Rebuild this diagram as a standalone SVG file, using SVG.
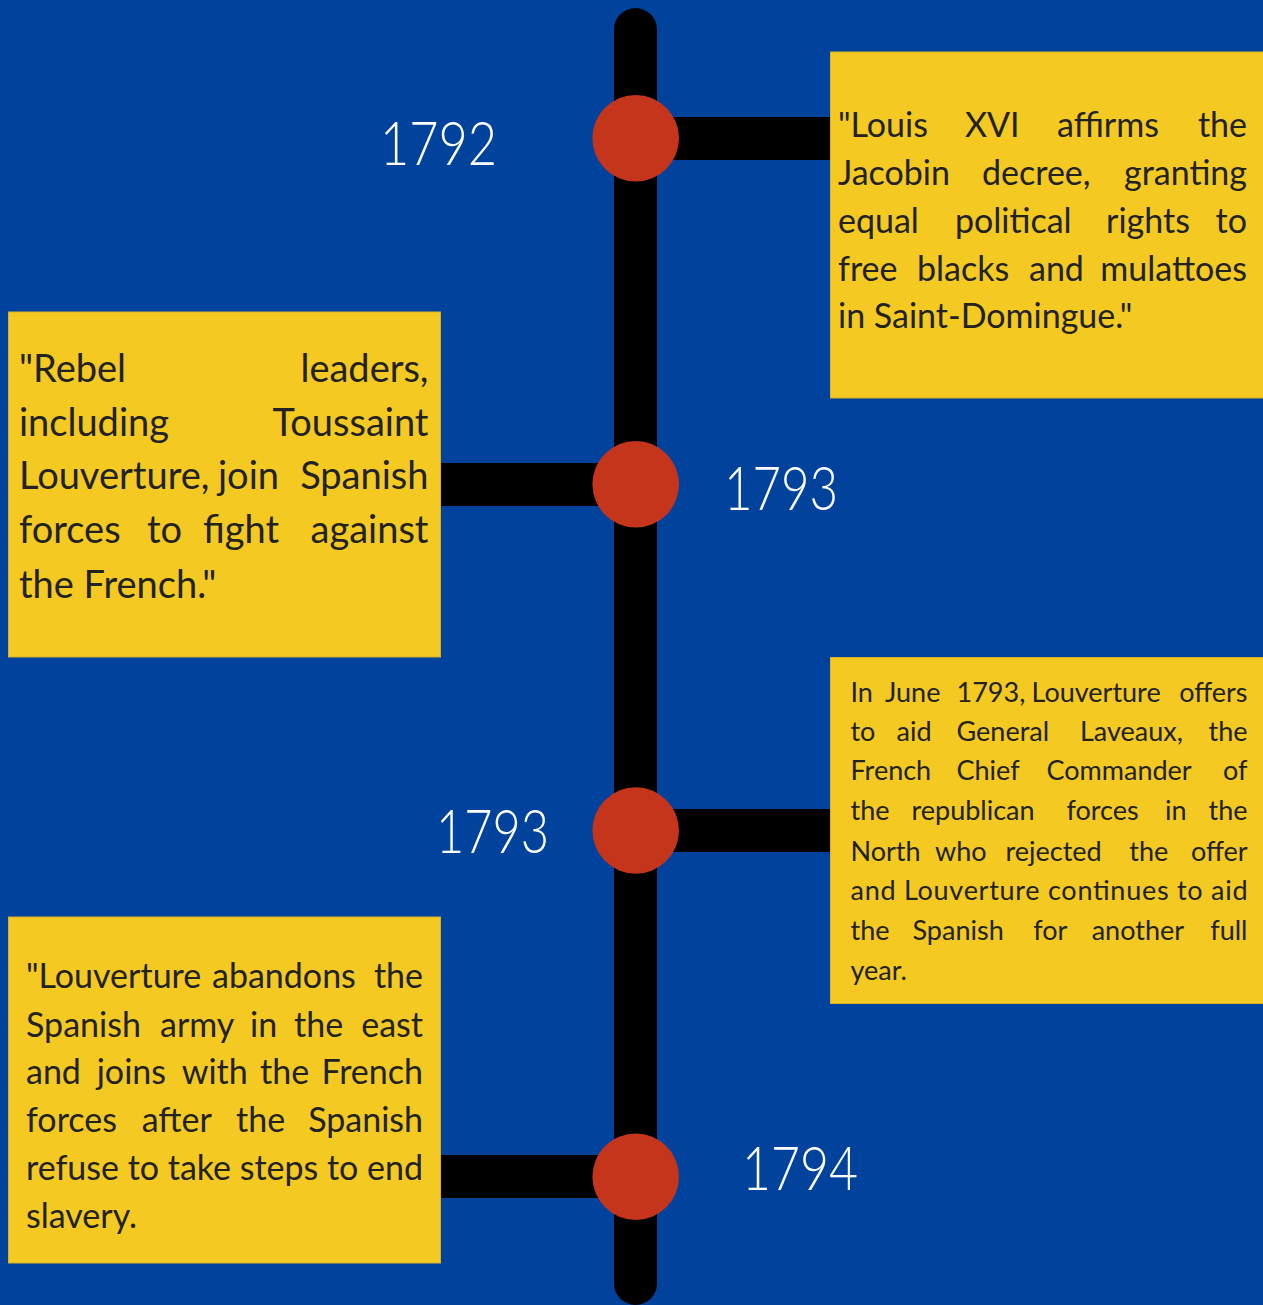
<svg xmlns="http://www.w3.org/2000/svg" width="1263" height="1305" viewBox="0 0 1263 1305">
<style>
.bg{fill:#01439c}
.spine{fill:#000}
.conn{fill:#000}
.dot{fill:#c4351b}
.box{fill:#f3c922;stroke:#d8b327;stroke-width:1}
.year{font-family:Lato,"Liberation Sans",sans-serif;font-weight:300;fill:#fff;font-size:62px}
.t{font-family:Lato,"Liberation Sans",sans-serif;fill:#222}
.a{font-size:34px}
.b{font-size:38px}
.c{font-size:27px}
.e{text-anchor:end}
</style>
<rect class="bg" x="0" y="0" width="1263" height="1305"/>
<g id="spine"><rect class="spine" x="614" y="8" width="43" height="1297" rx="21.5"/></g>
<g id="connectors">
<rect class="conn" x="636" y="117" width="195" height="43"/>
<rect class="conn" x="440" y="463" width="196" height="43"/>
<rect class="conn" x="636" y="809" width="195" height="43"/>
<rect class="conn" x="440" y="1155" width="196" height="43"/>
</g>
<g id="event-1792">
<circle class="dot" cx="635.7" cy="138.3" r="43.3"/>
<text class="year" x="380" y="165" textLength="117" lengthAdjust="spacingAndGlyphs">1792</text>
<rect class="box" x="830.5" y="52" width="434" height="346"/>
<g class="t a">
<text x="838" y="136.7">"Louis</text><text x="965" y="136.7">XVI</text><text x="1057" y="136.7">affirms</text><text class="e" x="1247" y="136.7">the</text>
<text x="838" y="185">Jacobin</text><text x="982" y="185">decree,</text><text class="e" x="1247" y="185">granting</text>
<text x="838" y="232.7">equal</text><text x="955" y="232.7">political</text><text x="1106" y="232.7">rights</text><text class="e" x="1247" y="232.7">to</text>
<text x="838" y="280.7">free</text><text x="917" y="280.7">blacks</text><text x="1029" y="280.7">and</text><text class="e" x="1247" y="280.7">mulattoes</text>
<text x="838" y="328.3">in Saint-Domingue."</text>
</g>
</g>
<g id="event-1793a">
<circle class="dot" cx="635.7" cy="484.3" r="43.3"/>
<text class="year" x="724" y="510" textLength="114" lengthAdjust="spacingAndGlyphs">1793</text>
<rect class="box" x="8.5" y="312" width="432" height="345"/>
<g class="t b">
<text x="19" y="381.7">"Rebel</text><text class="e" x="428.5" y="381.7">leaders,</text>
<text x="19" y="436">including</text><text class="e" x="428.5" y="436">Toussaint</text>
<text x="19" y="489.3">Louverture,</text><text x="218" y="489.3">join</text><text class="e" x="428.5" y="489.3">Spanish</text>
<text x="19" y="543.3">forces</text><text x="147" y="543.3">to</text><text x="203" y="543.3">fight</text><text class="e" x="428.5" y="543.3">against</text>
<text x="19" y="597.7">the French."</text>
</g>
</g>
<g id="event-1793b">
<circle class="dot" cx="635.7" cy="830.5" r="43.3"/>
<text class="year" x="436" y="853" textLength="113" lengthAdjust="spacingAndGlyphs">1793</text>
<rect class="box" x="830.5" y="657.5" width="434" height="346"/>
<g class="t c">
<text x="850.5" y="701.7">In</text><text x="885" y="701.7">June</text><text x="956.5" y="701.7">1793,</text><text x="1031.5" y="701.7">Louverture</text><text class="e" x="1247.5" y="701.7">offers</text>
<text x="850.5" y="740.7">to</text><text x="896.5" y="740.7">aid</text><text x="956.5" y="740.7">General</text><text x="1080" y="740.7">Laveaux,</text><text class="e" x="1247.5" y="740.7">the</text>
<text x="850.5" y="780">French</text><text x="956.5" y="780">Chief</text><text x="1046.5" y="780">Commander</text><text class="e" x="1247.5" y="780">of</text>
<text x="850.5" y="820">the</text><text x="911.5" y="820">republican</text><text x="1066.5" y="820">forces</text><text x="1165" y="820">in</text><text class="e" x="1247.5" y="820">the</text>
<text x="850.5" y="860.7">North</text><text x="935" y="860.7">who</text><text x="1005.5" y="860.7">rejected</text><text x="1129.3" y="860.7">the</text><text class="e" x="1247.5" y="860.7">offer</text>
<text x="850.5" y="900" textLength="397" lengthAdjust="spacing">and Louverture continues to aid</text>
<text x="850.5" y="940">the</text><text x="912.5" y="940">Spanish</text><text x="1033.3" y="940">for</text><text x="1091.7" y="940">another</text><text class="e" x="1247.5" y="940">full</text>
<text x="850.5" y="980">year.</text>
</g>
</g>
<g id="event-1794">
<circle class="dot" cx="635.7" cy="1176.7" r="43.3"/>
<text class="year" x="742" y="1190" textLength="116" lengthAdjust="spacingAndGlyphs">1794</text>
<rect class="box" x="8.5" y="917" width="432" height="346"/>
<g class="t a">
<text x="26" y="988.3">"Louverture</text><text x="212" y="988.3">abandons</text><text class="e" x="423" y="988.3">the</text>
<text x="26" y="1036.7">Spanish</text><text x="160" y="1036.7">army</text><text x="250" y="1036.7">in</text><text x="294" y="1036.7">the</text><text class="e" x="423" y="1036.7">east</text>
<text x="26" y="1084.3">and</text><text x="96.7" y="1084.3">joins</text><text x="181.7" y="1084.3">with</text><text x="260" y="1084.3">the</text><text class="e" x="423" y="1084.3">French</text>
<text x="26" y="1132.3">forces</text><text x="141.7" y="1132.3">after</text><text x="236" y="1132.3">the</text><text class="e" x="423" y="1132.3">Spanish</text>
<text x="26" y="1180" textLength="397" lengthAdjust="spacing">refuse to take steps to end</text>
<text x="26" y="1228.3">slavery.</text>
</g>
</g>
</svg>
